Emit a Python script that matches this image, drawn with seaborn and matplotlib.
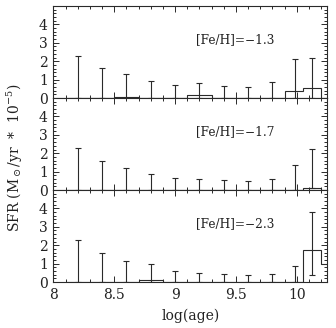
import numpy as np
import matplotlib
matplotlib.use("Agg")
import matplotlib.pyplot as plt
from matplotlib.ticker import MultipleLocator
import seaborn as sns

# %%
# bin edges of the SFR histogram (log age) and the error-bar positions
edges = [8.1, 8.3, 8.5, 8.7, 8.9, 9.1, 9.3, 9.5, 9.7, 9.9, 10.05, 10.2, 10.35]
err_x = [8.2, 8.4, 8.6, 8.8, 9.0, 9.2, 9.4, 9.6, 9.8, 9.985, 10.125]

labels = ["[Fe/H]=\u22121.3", "[Fe/H]=\u22121.7", "[Fe/H]=\u22122.3"]

sfr_13 = [0, 0, 0.05, 0, 0, 0.15, 0, 0, 0, 0.38, 0.52, 0]
sfr_17 = [0, 0, 0, 0, 0, 0, 0, 0, 0, 0, 0.13, 0]
sfr_23 = [0, 0, 0, 0.1, 0, 0, 0, 0, 0, 0, 1.73, 1.0]

up_13 = [2.3, 1.65, 1.28, 0.9, 0.7, 0.83, 0.63, 0.6, 0.85, 2.1, 2.2]
up_17 = [2.28, 1.6, 1.18, 0.85, 0.65, 0.58, 0.55, 0.5, 0.6, 1.35, 2.25]
up_23 = [2.3, 1.58, 1.12, 0.97, 0.62, 0.48, 0.43, 0.4, 0.46, 0.88, 3.78]

lo_13 = [0, 0, 0, 0, 0, 0, 0, 0, 0, 0, 0]
lo_17 = [0, 0, 0, 0, 0, 0, 0, 0, 0, 0, 0.13]
lo_23 = [0, 0, 0, 0, 0, 0, 0, 0, 0, 0, 0.4]

panels = [
    (labels[0], sfr_13, up_13, lo_13),
    (labels[1], sfr_17, up_17, lo_17),
    (labels[2], sfr_23, up_23, lo_23),
]

# %%
sns.set_style("ticks")
plt.rcParams['font.family'] = ['DejaVu Serif']
plt.rcParams['mathtext.fontset'] = 'dejavuserif'

col = '#2a2a2a'
fig = plt.figure(figsize=(3.36, 3.28), dpi=100)

left, width = 0.159, 0.815
height = 0.2805
bottoms = [0.7012, 0.4207, 0.1402]

for i, (lab, sfr, up, lo) in enumerate(panels):
    ax = fig.add_axes([left, bottoms[i], width, height])
    ax.stairs(sfr, edges, color=col, lw=0.8, baseline=0)
    up = np.array(up)
    lo = np.array(lo)
    ax.errorbar(err_x, lo, yerr=[np.zeros_like(lo), up - lo], fmt='none',
                ecolor=col, elinewidth=0.8, capsize=2, capthick=0.8)

    ax.set_xlim(8, 10.25)
    ax.set_ylim(0, 5)
    ax.xaxis.set_major_locator(MultipleLocator(0.5))
    ax.xaxis.set_minor_locator(MultipleLocator(0.1))
    ax.yaxis.set_major_locator(MultipleLocator(1))
    ax.yaxis.set_minor_locator(MultipleLocator(0.2))
    ax.set_yticks([0, 1, 2, 3, 4])
    ax.tick_params(which='both', direction='in', top=True, right=True,
                   color=col, width=0.7, labelsize=10, labelcolor='#222')
    ax.tick_params(which='major', length=4.5, pad=4)
    ax.tick_params(which='minor', length=2.2)
    for s in ax.spines.values():
        s.set_color(col)
        s.set_linewidth(0.8)
    if i < 2:
        ax.tick_params(labelbottom=False)
    else:
        ax.set_xticks([8, 8.5, 9, 9.5, 10])
        ax.set_xticklabels(['8', '8.5', '9', '9.5', '10'])
        ax.set_xlabel('log(age)', fontsize=10, color='#222', labelpad=5)
    ax.text(9.17, 3.15, lab, fontsize=8.7, color='#222', ha='left', va='center')

fig.text(0.045, 0.52, r'SFR (M$_\odot$/yr  *  10$^{-5}$)', rotation=90,
         fontsize=10, color='#222', ha='center', va='center')

plt.savefig('out.png', dpi=100)
